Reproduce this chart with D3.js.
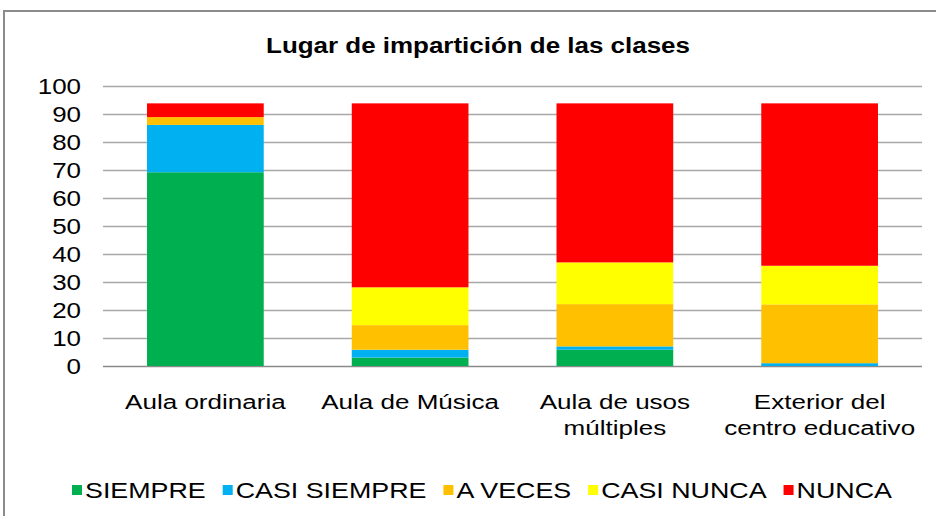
<!DOCTYPE html>
<html>
<head>
<meta charset="utf-8">
<script src="https://cdn.jsdelivr.net/npm/d3@7"></script>
<style>
  body { margin: 0; background: #fff; }
  text { font-family: "Liberation Sans", Arial, sans-serif; fill: #000; }
</style>
</head>
<body>
<svg id="chart" width="936" height="516"></svg>
<script>
// values (percent)
const categories = ['Aula ordinaria', 'Aula de Música', 'Aula de usos\nmúltiples', 'Exterior del\ncentro educativo'];
const seriesNames = ['SIEMPRE', 'CASI SIEMPRE', 'A VECES', 'CASI NUNCA', 'NUNCA'];
const siempre = [69.2, 3.0, 5.8, 0];
const casiSiempre = [16.9, 2.8, 1.2, 1.0];
const aVeces = [2.8, 8.8, 15.1, 21.0];
const casiNunca = [0, 13.5, 14.9, 13.8];
const nunca = [4.9, 65.7, 56.8, 58.0];
const yTicks = [0, 10, 20, 30, 40, 50, 60, 70, 80, 90, 100];
const colors = ['#00b050', '#00b0f0', '#ffc000', '#ffff00', '#ff0000'];

const plot = { left: 103, right: 922, top: 86, bottom: 366 };
const stretch = 1.18; // text in the picture is a bit wide

const svg = d3.select('#chart');

// outer frame
svg.append('rect')
    .attr('x', 4).attr('y', 11)
    .attr('width', 960).attr('height', 540)
    .attr('fill', 'none')
    .attr('stroke', '#8c8c8c')
    .attr('stroke-width', 2);

const rows = categories.map((c, i) => ({
    cat: c,
    SIEMPRE: siempre[i],
    'CASI SIEMPRE': casiSiempre[i],
    'A VECES': aVeces[i],
    'CASI NUNCA': casiNunca[i],
    NUNCA: nunca[i]
}));

const stack = d3.stack().keys(seriesNames)(rows);

const x = d3.scaleBand()
    .domain(categories)
    .range([plot.left, plot.right])
    .paddingInner(0.43)
    .paddingOuter(0.215);

const y = d3.scaleLinear()
    .domain([0, 100])
    .range([plot.bottom, plot.top]);

const color = d3.scaleOrdinal().domain(seriesNames).range(colors);

// gridlines + y labels
const yAxis = d3.axisLeft(y)
    .tickValues(yTicks)
    .tickSize(-(plot.right - plot.left))
    .tickPadding(0);

const yg = svg.append('g')
    .attr('transform', `translate(${plot.left},0)`)
    .call(yAxis);
yg.select('.domain').remove();
yg.selectAll('.tick line')
    .attr('stroke', d => d === 0 ? '#8a8a8a' : '#a8a8a8')
    .attr('stroke-width', 1.6);
yg.selectAll('.tick text')
    .attr('x', 0)
    .attr('dy', null)
    .attr('dominant-baseline', 'central')
    .attr('font-size', 22)
    .attr('text-anchor', 'end')
    .attr('transform', `translate(-22,0) scale(${stretch},1)`);

// bars
svg.append('g')
    .selectAll('g')
    .data(stack)
    .join('g')
    .attr('fill', d => color(d.key))
    .selectAll('rect')
    .data(d => d)
    .join('rect')
    .attr('x', d => x(d.data.cat))
    .attr('width', x.bandwidth())
    .attr('y', d => y(d[1]))
    .attr('height', d => y(d[0]) - y(d[1]));

// category labels
const xg = svg.append('g');
categories.forEach(c => {
    const t = xg.append('text')
        .attr('text-anchor', 'middle')
        .attr('font-size', 21)
        .attr('transform', `translate(${x(c) + x.bandwidth() / 2},409) scale(1.24,1)`);
    c.split('\n').forEach((line, i) => {
        t.append('tspan')
            .attr('x', 0)
            .attr('y', i * 26)
            .text(line);
    });
});

// title
svg.append('text')
    .attr('text-anchor', 'middle')
    .attr('font-size', 22)
    .attr('font-weight', 'bold')
    .attr('transform', `translate(478,53) scale(${stretch},1)`)
    .text('Lugar de impartición de las clases');

// legend
const legend = svg.append('g');
let lx = 72;
seriesNames.forEach(name => {
    legend.append('rect')
        .attr('x', lx).attr('y', 485)
        .attr('width', 10).attr('height', 10)
        .attr('fill', color(name));
    const t = legend.append('text')
        .attr('font-size', 22)
        .attr('transform', `translate(${lx + 13},498) scale(1.22,1)`)
        .text(name);
    lx += 13 + t.node().getComputedTextLength() * 1.22 + 17;
});
</script>
</body>
</html>
